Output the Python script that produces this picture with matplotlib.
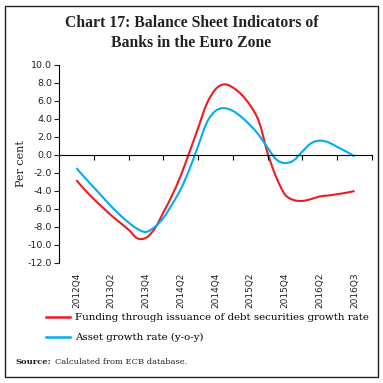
import numpy as np
import matplotlib
matplotlib.use("Agg")
import matplotlib.pyplot as plt
from matplotlib.patches import Rectangle, PathPatch
from matplotlib.path import Path

# x tick labels (one every two quarters on the category axis)
labels = ["2012Q4", "2013Q2", "2013Q4", "2014Q2", "2014Q4",
          "2015Q2", "2015Q4", "2016Q2", "2016Q3"]

# readings along the axis, every quarter of a label step
funding = [-2.8, -3.9, -4.9, -5.8, -6.7, -7.5, -8.3, -9.25, -9.2,
           -8.2, -6.4, -4.5, -2.3, 0.3, 3.0, 5.7, 7.3, 7.85, 7.5,
           6.7, 5.5, 3.7, 0.2, -2.5, -4.4, -5.0, -5.1, -4.9, -4.6,
           -4.5, -4.35, -4.2, -4.0]
assets = [-1.45, -2.55, -3.6, -4.65, -5.7, -6.65, -7.5, -8.2, -8.55,
          -8.0, -7.0, -5.5, -3.8, -1.6, 1.0, 3.6, 4.9, 5.2, 4.9,
          4.2, 3.3, 2.2, 0.8, -0.5, -0.9, -0.6, 0.4, 1.3, 1.6,
          1.4, 0.9, 0.4, -0.15]
pos = np.arange(len(funding)) * 0.25

RED = "#ed1c24"
BLUE = "#00aeef"
SERIF = "DejaVu Serif"
TITLE_FONT = "Liberation Serif"
INK = "#222222"


def smooth_path(x, y):
    # excel-style smoothed line: catmull-rom segments as cubic beziers
    x = np.asarray(x, float)
    y = np.asarray(y, float)
    px = np.concatenate([[x[0]], x, [x[-1]]])
    py = np.concatenate([[y[0]], y, [y[-1]]])
    verts = [(x[0], y[0])]
    codes = [Path.MOVETO]
    for i in range(1, len(x)):
        c1 = (px[i] + (px[i + 1] - px[i - 1]) / 6, py[i] + (py[i + 1] - py[i - 1]) / 6)
        c2 = (px[i + 1] - (px[i + 2] - px[i]) / 6, py[i + 1] - (py[i + 2] - py[i]) / 6)
        verts += [c1, c2, (x[i], y[i])]
        codes += [Path.CURVE4] * 3
    return Path(verts, codes)


fig = plt.figure(figsize=(3.83, 3.83), dpi=100)
fig.patches.append(Rectangle((5 / 383, 6 / 383), 373 / 383, 371 / 383,
                             transform=fig.transFigure, fill=False,
                             edgecolor=INK, linewidth=1.0))

fig.text(0.5, 1 - 23 / 383, "Chart 17: Balance Sheet Indicators of",
         ha="center", va="center", fontsize=11.3, fontweight="bold",
         family=TITLE_FONT, color=INK)
fig.text(0.5, 1 - 43 / 383, "Banks in the Euro Zone",
         ha="center", va="center", fontsize=11.3, fontweight="bold",
         family=TITLE_FONT, color=INK)

ax = fig.add_axes([59 / 383, 1 - 263 / 383, 313 / 383, 198 / 383])
for vals, col in ((funding, RED), (assets, BLUE)):
    ax.add_patch(PathPatch(smooth_path(pos, vals), facecolor="none",
                           edgecolor=col, lw=1.5))
l1, = ax.plot([], [], color=RED, lw=1.8)
l2, = ax.plot([], [], color=BLUE, lw=1.8)

ax.set_xlim(-0.5, 8.5)
ax.set_ylim(-12, 10)
ax.set_yticks(np.arange(-12, 11, 2))
ax.set_yticklabels([f"{v:.1f}" for v in np.arange(-12, 11, 2)])
ax.tick_params(axis="y", direction="out", length=3.5, width=0.8,
               labelsize=6.8, pad=1.5, colors=INK)
for s in ("top", "right"):
    ax.spines[s].set_visible(False)
ax.spines["left"].set_linewidth(0.8)
ax.spines["bottom"].set_position(("data", 0))
ax.spines["bottom"].set_linewidth(0.8)
ax.set_xticks(np.arange(0.5, 8.6, 1.0))
ax.tick_params(axis="x", direction="out", length=3.5, width=0.8,
               labelbottom=False)

sec = ax.secondary_xaxis(0.0)
sec.set_xticks(np.arange(len(labels)))
sec.set_xticklabels(labels, rotation=90)
sec.tick_params(length=0, labelsize=6.5, pad=7, colors=INK)
sec.spines["bottom"].set_visible(False)

ax.set_ylabel("Per cent", family=SERIF, fontsize=8.0, labelpad=1,
              color=INK)

fig.legend([l1, l2], ["Funding through issuance of debt securities growth rate",
                      "Asset growth rate (y-o-y)"],
           loc="upper left", bbox_to_anchor=(46 / 383, 1 - 313 / 383),
           frameon=False, prop={"family": SERIF, "size": 7.4},
           handlelength=2.3, handletextpad=0.55, labelspacing=1.05,
           borderaxespad=0, borderpad=0)

src = fig.text(16 / 383, 1 - 362 / 383, "Source:", fontsize=6.0,
               fontweight="bold", family=SERIF, va="center", color=INK)
fig.add_artist(matplotlib.text.Annotation(
    "Calculated from ECB database.", xy=(1, 0.5), xycoords=src,
    xytext=(2.5, 0), textcoords="offset points", va="center",
    fontsize=6.0, family=SERIF, color=INK))

fig.savefig("out.png", dpi=100)
